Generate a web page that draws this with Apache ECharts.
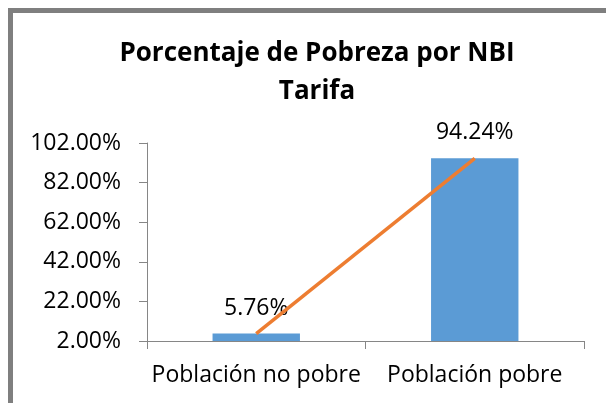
<!DOCTYPE html>
<html>
<head>
<meta charset="utf-8">
<script src="https://cdn.jsdelivr.net/npm/echarts@6/dist/echarts.min.js"></script>
<style>
  html, body { margin: 0; padding: 0; background: #fff; }
  #chart { width: 606px; height: 403px; }
</style>
</head>
<body>
<div id="chart"></div>
<script>
// Poverty share by unmet basic needs (NBI), Tarifa
const categories = ['Población no pobre', 'Población pobre'];
const povertyShare = [5.76, 94.24];
const trendShare = [5.76, 94.24];
const yTicks = { min: 2, max: 102, step: 20 };

const FONT = '"Open Sans", sans-serif';
const chart = echarts.init(document.getElementById('chart'), null, { renderer: 'canvas' });

chart.setOption({
  backgroundColor: '#ffffff',
  animation: false,
  title: {
    text: 'Porcentaje de Pobreza por NBI\nTarifa',
    left: 312,
    top: 30,
    textAlign: 'center',
    textStyle: {
      fontFamily: FONT,
      fontWeight: 'bold',
      fontSize: 26,
      lineHeight: 38,
      color: '#000000'
    }
  },
  graphic: [{
    type: 'rect',
    silent: true,
    shape: { x: 10.5, y: 10.5, width: 700, height: 500 },
    style: { fill: null, stroke: '#7f7f7f', lineWidth: 5 }
  }],
  grid: { left: 147, right: 22, top: 143, bottom: 62, containLabel: false },
  xAxis: {
    type: 'category',
    data: categories,
    axisLine: { lineStyle: { color: '#868686', width: 1 } },
    axisTick: { show: true, length: 8, lineStyle: { color: '#868686' } },
    axisLabel: {
      interval: 0, hideOverlap: false,
      color: '#000000', fontFamily: FONT, fontSize: 23, margin: 23
    }
  },
  yAxis: {
    type: 'value',
    min: yTicks.min,
    max: yTicks.max,
    interval: yTicks.step,
    splitLine: { show: false },
    axisLine: { show: true, lineStyle: { color: '#868686', width: 1 } },
    axisTick: { show: true, length: 8, lineStyle: { color: '#868686' } },
    axisLabel: {
      color: '#000000', fontFamily: FONT, fontSize: 23, margin: 26,
      formatter: v => v.toFixed(2) + '%'
    }
  },
  series: [
    {
      type: 'bar',
      data: povertyShare,
      barWidth: '40%',
      itemStyle: { color: '#5b9bd5' },
      label: {
        show: true,
        position: 'top',
        distance: 14,
        color: '#000000',
        fontFamily: FONT,
        fontSize: 23,
        formatter: p => p.value.toFixed(2) + '%'
      },
      z: 2
    },
    {
      type: 'line',
      data: trendShare,
      symbol: 'none',
      lineStyle: { color: '#ed7d31', width: 3.5 },
      z: 3
    }
  ]
});
</script>
</body>
</html>
